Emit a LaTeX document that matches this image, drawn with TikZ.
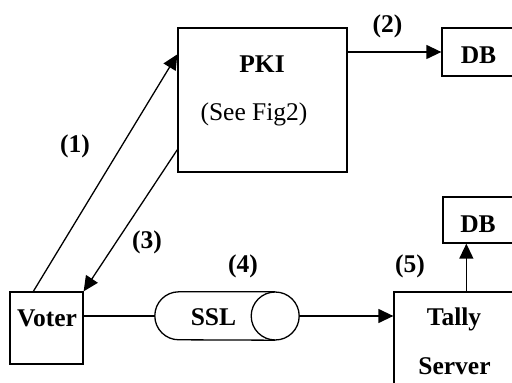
\documentclass[tikz,border=0pt]{standalone}
\usepackage{fontspec}
\setmainfont{Liberation Serif}
\usetikzlibrary{arrows.meta,calc}
\begin{document}
\begin{tikzpicture}[x=1pt,y=1pt,
  box/.style={draw,line width=1.3pt,inner sep=0pt},
  txt/.style={inner sep=0pt,anchor=base,font=\fontsize{25.5}{30}\selectfont\bfseries},
  rtxt/.style={inner sep=0pt,anchor=base,font=\fontsize{25.5}{30}\selectfont},
  conn/.style={line width=1.3pt},
  arr/.style={line width=1.3pt,-{Triangle[length=15pt,width=14pt]}}]
\useasboundingbox (0,0) rectangle (512,383);
\clip (0,0) rectangle (512,383);
% boxes
\node[box,minimum width=169pt,minimum height=144pt] (pki) at (262.5,283) {};
\node[box,minimum width=98pt,minimum height=48pt] (db1) at (491,331) {};
\node[box,minimum width=98pt,minimum height=46pt] (db2) at (492,163) {};
\node[box,minimum width=73pt,minimum height=72pt] (voter) at (46.5,55) {};
\node[box,minimum width=166pt,minimum height=120pt] (tally) at (477,31) {};
\node[inner sep=0pt,minimum width=144pt,minimum height=48pt] (ssl) at (227,67) {};
% SSL cylinder
\draw[conn] ($(ssl.east)+(-24,0)$) circle (24pt);
\draw[conn] ($(ssl.north east)+(-24,0)$) -- ($(ssl.north west)+(24,0)$)
  arc[start angle=90,end angle=270,radius=24pt] -- ($(ssl.south east)+(-24,0)$);
% texts
\node[txt] (tpki) at (262,310) {PKI};
\node[rtxt] (tsee) at (254,262) {(See Fig2)};
\node[txt] (tdb1) at (478.5,319) {DB};
\node[txt] (tdb2) at (478,150) {DB};
\node[txt] (tvoter) at (47,56) {Voter};
\node[txt] (tssl) at (213.5,57) {SSL};
\node[txt] (ttally) at (454,57) {Tally};
\node[txt] (tserver) at (454.5,8) {Server};
\node[txt] (l1) at (75,230) {(1)};
\node[txt] (l2) at (387.5,350) {(2)};
\node[txt] (l3) at (147,134) {(3)};
\node[txt] (l4) at (243,110) {(4)};
\node[txt] (l5) at (410,110) {(5)};
% connectors
\coordinate (vtop) at ($(voter.north west)+(24,0)$);
\coordinate (pkiin) at ($(pki.north west)+(0,-27)$);
\coordinate (pkiout) at ($(pki.south west)+(0,23)$);
\draw[arr] (vtop) -- (pkiin);
\draw[arr] (pkiout) -- (voter.north east);
\draw[arr] (pki.east |- db1.west) -- (db1.west);
\draw[conn] (voter.east |- ssl.west) -- (ssl.west);
\draw[arr] (ssl.east) -- (ssl.east -| tally.west);
\coordinate (ttop) at ($(tally.north west)+(73,0)$);
\draw[arr] (ttop) -- (ttop |- db2.south);
\end{tikzpicture}
\end{document}
